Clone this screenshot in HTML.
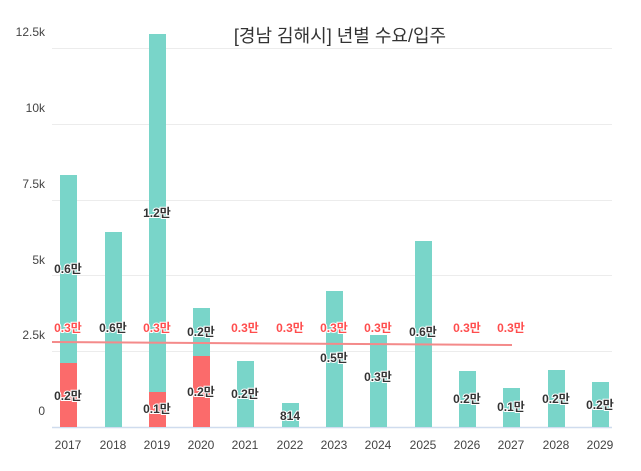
<!DOCTYPE html><html><head><meta charset="utf-8"><style>body{margin:0;background:#fff}svg{display:block}text{font-family:"Liberation Sans","Noto Sans CJK KR",sans-serif}</style></head><body>
<svg width="641" height="471" viewBox="0 0 641 471">
<g stroke="#ececec" stroke-width="1">
<line x1="52" y1="48.5" x2="612" y2="48.5"/><line x1="52" y1="124.5" x2="612" y2="124.5"/><line x1="52" y1="200.5" x2="612" y2="200.5"/><line x1="52" y1="275.5" x2="612" y2="275.5"/><line x1="52" y1="351.5" x2="612" y2="351.5"/></g>
<line x1="52" y1="427.5" x2="612" y2="427.5" stroke="#cfdcee" stroke-width="1.5"/>
<g font-size="12" fill="#444" text-anchor="end">
<text x="45" y="36">12.5k</text><text x="45" y="112">10k</text><text x="45" y="188">7.5k</text><text x="45" y="264">5k</text><text x="45" y="339">2.5k</text><text x="45" y="415">0</text></g>
<text x="340" y="42" font-size="18" fill="#333" text-anchor="middle">[경남 김해시] 년별 수요/입주</text>
<g fill="#79d5c9">
<rect x="60" y="175" width="17" height="252"/><rect x="105" y="232" width="17" height="195"/><rect x="149" y="34" width="17" height="393"/><rect x="193" y="308" width="17" height="119"/><rect x="237" y="361" width="17" height="66"/><rect x="282" y="403" width="17" height="24"/><rect x="326" y="291" width="17" height="136"/><rect x="370" y="335" width="17" height="92"/><rect x="415" y="241" width="17" height="186"/><rect x="459" y="371" width="17" height="56"/><rect x="503" y="388" width="17" height="39"/><rect x="548" y="370" width="17" height="57"/><rect x="592" y="382" width="17" height="45"/></g>
<g fill="#fb6b6b"><rect x="60" y="363" width="17" height="64"/><rect x="149" y="392" width="17" height="35"/><rect x="193" y="356" width="17" height="71"/></g>
<line x1="52" y1="342" x2="512" y2="345" stroke="#f48a8a" stroke-width="2"/>
<g font-size="12" fill="#444" text-anchor="middle">
<text x="68" y="449">2017</text><text x="113" y="449">2018</text><text x="157" y="449">2019</text><text x="201" y="449">2020</text><text x="245" y="449">2021</text><text x="290" y="449">2022</text><text x="334" y="449">2023</text><text x="378" y="449">2024</text><text x="423" y="449">2025</text><text x="467" y="449">2026</text><text x="511" y="449">2027</text><text x="556" y="449">2028</text><text x="600" y="449">2029</text></g>
<g font-size="12" font-weight="bold" fill="#ff4d4d" text-anchor="middle" stroke="#fff" stroke-width="2" paint-order="stroke">
<text x="68" y="332">0.3만</text><text x="157" y="332">0.3만</text><text x="245" y="332">0.3만</text><text x="290" y="332">0.3만</text><text x="334" y="332">0.3만</text><text x="378" y="332">0.3만</text><text x="467" y="332">0.3만</text><text x="511" y="332">0.3만</text></g>
<g font-size="12" font-weight="bold" fill="#333" text-anchor="middle" stroke="#fff" stroke-width="2" paint-order="stroke">
<text x="113" y="332">0.6만</text><text x="201" y="336">0.2만</text><text x="423" y="336">0.6만</text>
<text x="68" y="273">0.6만</text><text x="157" y="217">1.2만</text>
<text x="68" y="400">0.2만</text><text x="157" y="413">0.1만</text><text x="201" y="396">0.2만</text><text x="245" y="398">0.2만</text><text x="290" y="420">814</text><text x="334" y="362">0.5만</text><text x="378" y="381">0.3만</text><text x="467" y="403">0.2만</text><text x="511" y="411">0.1만</text><text x="556" y="403">0.2만</text><text x="600" y="409">0.2만</text></g>
</svg></body></html>
